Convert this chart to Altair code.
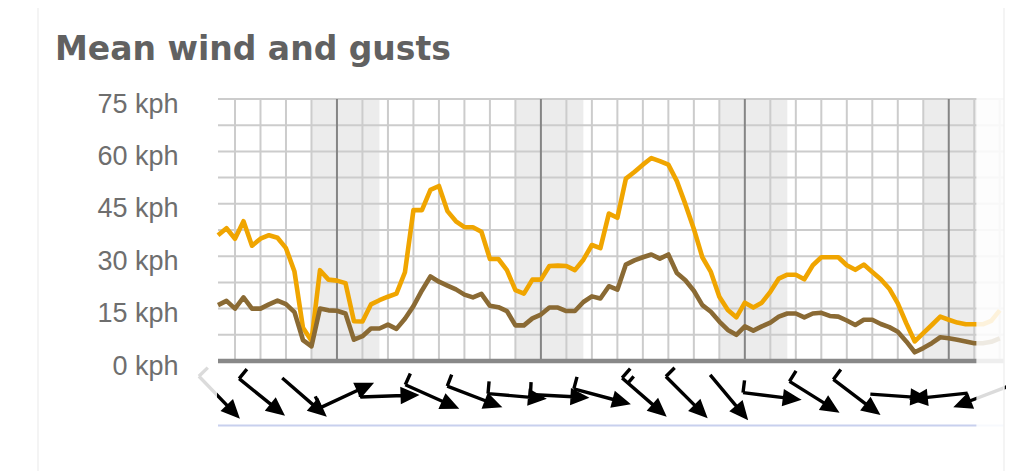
import altair as alt
import pandas as pd

# ---------------- data ----------------
title_text = "Mean wind and gusts"
hours = list(range(-14, 79))  # hours from first midnight
gust = [36, 38, 35, 40, 33, 35, 36, 35.3, 32.3, 25.6, 9.5, 5.8, 26, 23.3,
        23, 22.3, 11.4, 11.3, 16.2, 17.4, 18.4, 19.3, 25.4, 43.2, 43.2, 49, 50.1, 42.9,
        40, 38.3, 38.3, 37, 29.2, 29.2, 26, 20.3, 19.3, 23.3,
        23.3, 27.2, 27.3, 27.2, 26, 29, 33.2, 32.3, 42.2, 41, 52.2, 54.1, 56.2, 58.1,
        57.2, 56.2, 51.5, 44.9, 37.8, 29.7, 25.5, 18.4, 14.6, 12.5,
        16.7, 15.3, 16.7, 19.8, 23.6, 24.7, 24.7, 23.4, 27.4, 29.7, 29.7, 29.7, 27.4, 26.1,
        27.6, 25.5, 23.4, 20.7, 16.5, 10.8, 5.6, 8, 10.3, 12.7,
        11.8, 11, 10.5, 10.5, 10.5, 11.5, 14.5]
mean = [16, 17.2, 15, 18.2, 15, 15, 16.2, 17.3, 16.3, 14, 6, 4.2, 15, 14.5,
        14.4, 13.6, 6.1, 7.1, 9.3, 9.3, 10.4, 9.2, 12.1, 15.7, 20.2, 24.2, 22.7, 21.6,
        20.5, 19, 18.2, 19.2, 15.8, 15.4, 14.3, 10.2, 10.2, 12.2,
        13.3, 15.3, 15.3, 14.3, 14.3, 16.9, 18.5, 17.9, 21.4, 20.4, 27.6, 28.8, 29.7, 30.5,
        29.3, 30.5, 25.2, 23.1, 20.1, 16, 14.1, 11.3, 8.9, 7.5,
        9.9, 8.7, 9.9, 11, 12.7, 13.6, 13.6, 12.5, 13.6, 13.8, 12.9, 12.7, 11.6, 10.3,
        11.8, 11.8, 10.6, 9.7, 8.4, 5.6, 2.5, 3.7, 5.1, 6.8,
        6.5, 6.1, 5.6, 5.1, 5.1, 5.5, 6.5]

night_start = [-3, 21, 45, 69]
night_end = [5, 29, 53, 78.5]
midnights = [0, 24, 48, 72]
h_grid = [7.5 * i for i in range(1, 11)]
v_grid = [h for h in range(-12, 79, 3) if h % 24 != 0]
y_ticks = [0, 15, 30, 45, 60, 75]

arrow_hours = [-14, -9, -4, 1, 6, 11, 16, 21, 26, 31, 36, 41, 46, 51, 56, 61, 66, 71, 76]
wind_from = [316, 309, 311, 245, 268, 294, 291, 275, 273, 285, 311, 315, 320, 277, 302, 307, 274, 84, 69]
barbs = [1, 1, 0, 1, 1, 1, 1, 1, 1, 1, 2, 1, 0, 1, 1, 1, 0, 0, 0]

forecast_fade = [75.25, 78.5]
x_domain = [-14, 78.5]

# ---------------- tables ----------------
lines_df = pd.DataFrame({
    "h": hours * 2,
    "value": gust + mean,
    "series": ["Gusts"] * len(hours) + ["Mean"] * len(hours),
})
night_df = pd.DataFrame({"start": night_start, "end": night_end})
mid_df = pd.DataFrame({"h": midnights})
hgrid_df = pd.DataFrame({"value": h_grid})
vgrid_df = pd.DataFrame({"h": v_grid})
zero_df = pd.DataFrame({"value": [0]})
one = pd.DataFrame({"a": [0]})
fade_df = pd.DataFrame({"start": [forecast_fade[0]], "end": [forecast_fade[1]]})

SHAFT = "M -1 0 L 0.56 0 M 1 0 L 0.52 -0.22 L 0.52 0.22 Z"
BARB1 = " M -1 0 L -1 -0.45"
BARB2 = " M -0.72 0 L -0.72 -0.32"
paths = {0: SHAFT, 1: SHAFT + BARB1, 2: SHAFT + BARB1 + BARB2}
arrows_df = pd.DataFrame({
    "h": arrow_hours,
    "angle": [(d + 90) % 360 for d in wind_from],
    "path": [paths[b] for b in barbs],
})

# ---------------- scales / axes ----------------
xs = alt.Scale(domain=x_domain, nice=False, zero=False)
ys = alt.Scale(domain=[0, 75], nice=False)
yaxis = alt.Axis(values=y_ticks, labelExpr="datum.value + ' kph'", title=None,
                 grid=False, ticks=False, tickSize=0, domain=False,
                 labelPadding=40, labelFontSize=27, labelFont="Liberation Sans",
                 labelColor="#6e6e6e", labelBaseline="middle", labelOffset=5)

W, H = 786, 262

night = alt.Chart(night_df).mark_rect(color="#ececec").encode(
    x=alt.X("start:Q", scale=xs, axis=None), x2="end:Q",
    y=alt.value(0), y2=alt.value(H))

hgrid = alt.Chart(hgrid_df).mark_rule(color="#cccccc", strokeWidth=2).encode(
    y=alt.Y("value:Q", scale=ys, axis=yaxis))

vgrid = alt.Chart(vgrid_df).mark_rule(color="#cccccc", strokeWidth=2).encode(
    x=alt.X("h:Q", scale=xs, axis=None))

mids = alt.Chart(mid_df).mark_rule(color="#858585", strokeWidth=2).encode(
    x=alt.X("h:Q", scale=xs, axis=None))

lines = alt.Chart(lines_df).mark_line(strokeWidth=4.6, strokeJoin="round").encode(
    x=alt.X("h:Q", scale=xs, axis=None),
    y=alt.Y("value:Q", scale=ys, axis=yaxis),
    color=alt.Color("series:N", scale=alt.Scale(domain=["Gusts", "Mean"],
                                                range=["#f0a500", "#8a6a34"]), legend=None))

zero_bar = alt.Chart(zero_df).mark_rule(color="#888888", strokeWidth=4.5).encode(
    y=alt.Y("value:Q", scale=ys, axis=yaxis))

blue = alt.Chart(one).mark_rule(color="#c8d0ee", strokeWidth=2).encode(
    x=alt.value(0), x2=alt.value(W), y=alt.value(326.5))

arrows = alt.Chart(arrows_df).mark_point(
    filled=True, fill="black", stroke="black", strokeWidth=3.4, opacity=1,
    strokeJoin="miter").encode(
    x=alt.X("h:Q", scale=xs, axis=None),
    y=alt.value(297),
    shape=alt.Shape("path:N", scale=None),
    angle=alt.Angle("angle:Q", scale=None),
    size=alt.value(3025))

fade_right = alt.Chart(fade_df).mark_rect(color="white", opacity=0.86).encode(
    x=alt.X("start:Q", scale=xs, axis=None), x2="end:Q",
    y=alt.value(-3), y2=alt.value(340))

fade_left = alt.Chart(one).mark_rect(color="white", opacity=0.86).encode(
    x=alt.value(-32), x2=alt.value(-1), y=alt.value(H + 4), y2=alt.value(340))

border_l = alt.Chart(one).mark_rule(color="#f0f0f0", strokeWidth=1.5).encode(
    x=alt.value(-180), y=alt.value(-95), y2=alt.value(400))
border_r = alt.Chart(one).mark_rule(color="#f0f0f0", strokeWidth=1.5).encode(
    x=alt.value(W), y=alt.value(-95), y2=alt.value(400))

title = alt.Chart(one).mark_text(
    text=title_text, align="left", baseline="alphabetic", font="DejaVu Sans",
    fontSize=33, fontWeight="bold", color="#616161").encode(
    x=alt.value(-163), y=alt.value(-39))

chart = alt.layer(
    night, hgrid, vgrid, mids, lines, zero_bar, blue, arrows,
    fade_right, fade_left, border_l, border_r, title
).properties(
    width=W, height=H,
    padding={"left": 210, "top": 91, "right": 2, "bottom": 110},
    autosize=alt.AutoSizeParams(type="none"),
    background="white",
).configure_view(stroke=None)

chart.save("out.html", embed_options={"renderer": "svg", "actions": False})
